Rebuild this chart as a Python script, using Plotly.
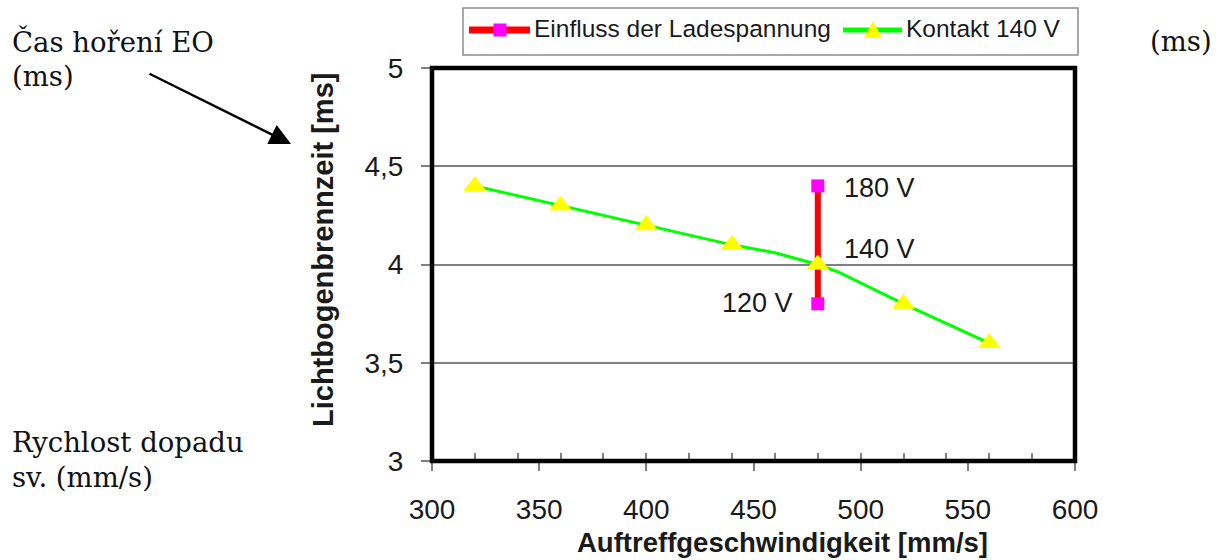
import plotly.graph_objects as go

# ---- data -------------------------------------------------------------
# Kontakt 140 V: impact speed [mm/s] vs. arc burn time [ms]
kontakt_x = [320, 360, 400, 440, 460, 480, 490, 520, 560]
kontakt_y = [4.4, 4.3, 4.2, 4.1, 4.06, 4.0, 3.96, 3.8, 3.6]
kontakt_marked = [True, True, True, True, False, True, False, True, True]

# Influence of the charging voltage at 480 mm/s
lade_x = [480, 480, 480]
lade_y = [3.8, 4.0, 4.4]
lade_labels = ["120 V", "140 V", "180 V"]
lade_marked = [True, False, True]

x_ticks = [300, 350, 400, 450, 500, 550, 600]
y_ticks = [3, 3.5, 4, 4.5, 5]

# ---- layout geometry ---------------------------------------------------
W, H = 1216, 560
ML, MR, MT, MB = 432, 141, 68, 99
PW, PH = W - ML - MR, H - MT - MB


def px_x(px):
    return (px - ML) / PW


def px_y(py):
    return 1 - (py - MT) / PH


SANS = "Liberation Sans, Arial, sans-serif"
SERIF = "DejaVu Serif, Georgia, serif"
TXT = "#1a1a1a"
GRAY = "#808080"

fig = go.Figure()

fig.add_trace(go.Scatter(
    x=lade_x, y=lade_y, mode="lines+markers",
    name="Einfluss der Ladespannung",
    line=dict(color="#ff0000", width=6),
    marker=dict(symbol="square", color="#ff00ff", opacity=1,
                line=dict(width=0),
                size=[13 if m else 0 for m in lade_marked]),
    showlegend=False,
))

fig.add_trace(go.Scatter(
    x=kontakt_x, y=kontakt_y, mode="lines+markers",
    name="Kontakt 140 V",
    line=dict(color="#00ff00", width=3),
    marker=dict(symbol="triangle-up", color="#ffff00", opacity=1,
                line=dict(width=0),
                size=[20 if m else 0 for m in kontakt_marked]),
    showlegend=False,
))

annotations = []

# voltage labels next to the red series
label_style = [
    dict(xanchor="right", xshift=-23, yshift=1),   # 120 V
    dict(xanchor="left", xshift=24, yshift=16),    # 140 V
    dict(xanchor="left", xshift=24, yshift=-2),    # 180 V
]
for xv, yv, lab, st in zip(lade_x, lade_y, lade_labels, label_style):
    annotations.append(dict(
        x=xv, y=yv, xref="x", yref="y", text=lab, showarrow=False,
        yanchor="middle", font=dict(family=SANS, size=27, color=TXT), **st))

# axis titles
annotations.append(dict(
    x=px_x(323), y=px_y(250), xref="paper", yref="paper",
    text="Lichtbogenbrennzeit [ms]", textangle=-90, showarrow=False,
    xanchor="center", yanchor="middle",
    font=dict(family=SANS, size=29, color=TXT, weight="bold")))
annotations.append(dict(
    x=px_x(782), y=px_y(542), xref="paper", yref="paper",
    text="Auftreffgeschwindigkeit [mm/s]", showarrow=False,
    xanchor="center", yanchor="middle", borderpad=0,
    font=dict(family=SANS, size=27.5, color=TXT, weight="bold")))

# Czech side notes
serif_font = dict(family=SERIF, size=27.5, color="#111111")
for txt, xp, yp, xa in [
    ("Čas hoření EO", 10, 42, "left"),
    ("(ms)", 10, 76, "left"),
    ("Rychlost dopadu", 10, 442, "left"),
    ("sv. (mm/s)", 10, 477, "left"),
    ("(ms)", 1214, 41, "right"),
]:
    annotations.append(dict(
        x=px_x(xp), y=px_y(yp), xref="paper", yref="paper", text=txt,
        showarrow=False, xanchor=xa, yanchor="middle", align="left",
        font=serif_font))

# arrow pointing at the y-axis title
annotations.append(dict(
    x=px_x(291), y=px_y(144), xref="paper", yref="paper", text="",
    showarrow=True, ax=-143, ay=-71, arrowhead=2, arrowsize=1.7,
    arrowwidth=2.5, arrowcolor="black", standoff=0))

# legend entries
legend_font = dict(family=SANS, size=24.5, color=TXT)
annotations.append(dict(
    x=px_x(532), y=px_y(29), xref="paper", yref="paper",
    text="Einfluss der Ladespannung", showarrow=False,
    xanchor="left", yanchor="middle", font=legend_font))
annotations.append(dict(
    x=px_x(904), y=px_y(29), xref="paper", yref="paper",
    text="Kontakt 140 V", showarrow=False,
    xanchor="left", yanchor="middle", font=legend_font))


def prect(x0, y0, x1, y1, **kw):
    return dict(type="rect", xref="paper", yref="paper",
                x0=px_x(x0), x1=px_x(x1), y0=px_y(y1), y1=px_y(y0), **kw)


def pline(x0, y0, x1, y1, **kw):
    return dict(type="line", xref="paper", yref="paper",
                x0=px_x(x0), x1=px_x(x1), y0=px_y(y0), y1=px_y(y1), **kw)


shapes = [
    # plot frame
    dict(type="rect", xref="paper", yref="paper", x0=0, x1=1, y0=0, y1=1,
         line=dict(color="black", width=4.5), layer="above"),
    # legend box and samples
    prect(463, 8, 1078, 55, line=dict(color="#8c8c8c", width=1.5),
          fillcolor="white"),
    pline(469, 30, 530, 30, line=dict(color="#ff0000", width=7)),
    prect(493.5, 23.5, 506.5, 36.5, line=dict(width=0), fillcolor="#ff00ff"),
    pline(843, 30, 902, 30, line=dict(color="#00ff00", width=5)),
    dict(type="path", xref="paper", yref="paper",
         path="M {} {} L {} {} L {} {} Z".format(
             px_x(864), px_y(38), px_x(882), px_y(38), px_x(873), px_y(21)),
         line=dict(width=0), fillcolor="#ffff00"),
]

fig.update_layout(
    width=W, height=H,
    margin=dict(l=ML, r=MR, t=MT, b=MB, pad=0),
    paper_bgcolor="white", plot_bgcolor="white",
    separators=", ",
    showlegend=False,
    annotations=annotations,
    shapes=shapes,
    font=dict(family=SANS, color=TXT),
)

fig.update_xaxes(
    range=[300, 600], tickvals=x_ticks, showgrid=False, zeroline=False,
    ticks="outside", ticklen=9, tickwidth=1.5, tickcolor=GRAY,
    tickfont=dict(family=SANS, size=28, color=TXT), ticklabelstandoff=14,
    minor=dict(dtick=20, tick0=300, ticks="inside", ticklen=8,
               tickwidth=1.5, tickcolor=GRAY, showgrid=False),
    showline=False,
)
fig.update_yaxes(
    range=[3, 5], tickvals=y_ticks, showgrid=True, gridcolor=GRAY,
    gridwidth=1.5, zeroline=False,
    ticks="outside", ticklen=10, tickwidth=1.5, tickcolor=GRAY,
    tickfont=dict(family=SANS, size=28, color=TXT), ticklabelstandoff=12,
    showline=False,
)

fig.write_html("out.html")
